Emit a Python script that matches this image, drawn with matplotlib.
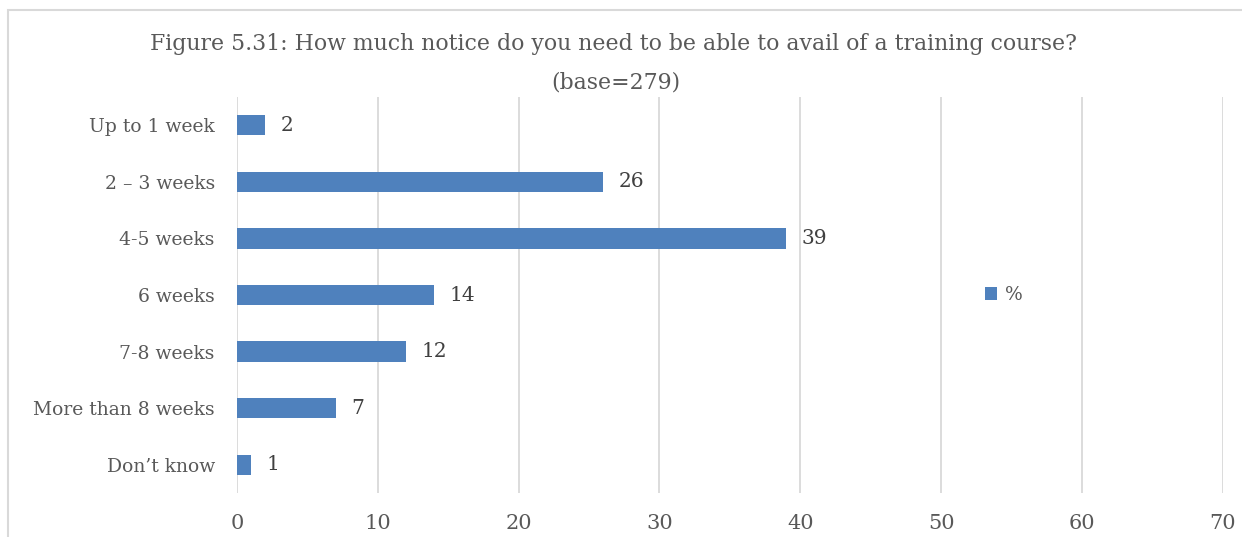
import matplotlib
matplotlib.use("Agg")
import matplotlib.pyplot as plt
from matplotlib.patches import Rectangle

categories = ["Up to 1 week", "2 \u2013 3 weeks", "4-5 weeks", "6 weeks",
              "7-8 weeks", "More than 8 weeks", "Don\u2019t know"]
values = [2, 26, 39, 14, 12, 7, 1]
xticks = [0, 10, 20, 30, 40, 50, 60, 70]

title1 = "Figure 5.31: How much notice do you need to be able to avail of a training course?"
title2 = "(base=279)"
bar_color = "#4f81bd"
text_color = "#595959"
grid_color = "#d9d9d9"

plt.rcParams["font.family"] = ["DejaVu Serif"]

fig = plt.figure(figsize=(12.42, 5.37), dpi=100)
ax = fig.add_axes([237 / 1242, 1 - 493 / 537, (1222.7 - 237) / 1242, (493 - 97) / 537])

# outer chart border (cropped on right and bottom)
fig.patches.append(Rectangle((8 / 1242, -0.1), 1.2, 1 - 10 / 537 + 0.1,
                             transform=fig.transFigure, fill=False,
                             edgecolor=grid_color, linewidth=1.5))

y = list(range(len(categories)))
bars = ax.barh(y, values, height=0.36, color=bar_color, label="%", zorder=3)
ax.set_ylim(len(categories) - 0.5, -0.5)
ax.set_xlim(0, 70)
ax.set_xticks(xticks)
ax.set_yticks(y)
ax.set_yticklabels(categories)
ax.tick_params(axis="both", length=0, colors=text_color)
ax.tick_params(axis="y", pad=16, labelsize=13.5)
ax.tick_params(axis="x", pad=15, labelsize=15)
ax.grid(axis="x", color=grid_color, linewidth=1.3, zorder=0)
for s in ax.spines.values():
    s.set_visible(False)

for b, v in zip(bars, values):
    ax.text(v + 1.1, b.get_y() + b.get_height() / 2, str(v), va="center",
            ha="left", fontsize=14.5, color="#404040")

fig.text(614 / 1242, 1 - 44 / 537, title1, ha="center", va="center",
         fontsize=15.8, color=text_color)
fig.text(616 / 1242, 1 - 83 / 537, title2, ha="center", va="center",
         fontsize=15.8, color=text_color)

leg = ax.legend(loc="center left", bbox_to_anchor=((968 - 237) / (1222.7 - 237), 0.5),
                frameon=False, fontsize=13.5, handlelength=0.65, handleheight=0.65,
                handletextpad=0.4)
for t in leg.get_texts():
    t.set_color(text_color)

fig.savefig("out.png", dpi=100)
